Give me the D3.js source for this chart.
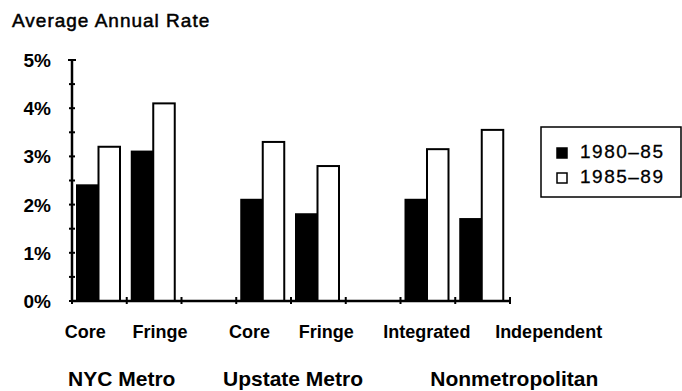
<!DOCTYPE html>
<html>
<head>
<meta charset="utf-8">
<script src="https://cdn.jsdelivr.net/npm/d3@7"></script>
<style>
body{margin:0;background:#fff}
svg{display:block;font-family:"Liberation Sans",Arial,sans-serif}
</style>
</head>
<body>
<svg id="chart" width="682" height="391"></svg>
<script>
// data
var categories=['Core','Fringe','Core','Fringe','Integrated','Independent']
var groupOf=[0,0,1,1,2,2]
var groups=['NYC Metro','Upstate Metro','Nonmetropolitan']
var series=['1980\u201385','1985\u201389']
var rate8085=[2.4,3.1,2.1,1.8,2.1,1.7]
var rate8589=[3.2,4.1,3.3,2.8,3.15,3.55]
var yTicks=[0,1,2,3,4,5]

// layout only
var labelDx=[-14,6,-14,8,-1,66]
var groupDx=[-5,2,59]

var svg=d3.select('#chart')
var x=d3.scaleBand().domain(d3.range(8)).range([72,510]).padding(0),
    inner=d3.scaleBand().domain(series).range([5,48]).padding(0),
    y=d3.scaleLinear().domain([0,5]).range([301,60])

function slot(i){ return groupOf[i]*3+(i%2) }

var rows=[]
for(let i=0;i<categories.length;i++)
{
    rows.push({i:i,s:series[0],v:rate8085[i]})
    rows.push({i:i,s:series[1],v:rate8589[i]})
}

// title
svg.append('text')
    .attr('x',12).attr('y',27)
    .attr('font-size',19)
    .attr('letter-spacing',1)
    .attr('stroke','#000').attr('stroke-width',0.5)
    .text('Average Annual Rate')

// bars
svg.append('g').attr('id','bars')
    .selectAll('rect')
    .data(rows)
    .join('rect')
    .attr('x',d=>x(slot(d.i))+inner(d.s))
    .attr('y',d=>y(d.v))
    .attr('width',inner.bandwidth())
    .attr('height',d=>y(0)-y(d.v))
    .attr('fill',d=>d.s==series[0]?'#000':'#fff')
    .attr('stroke','#000')
    .attr('stroke-width',2)

// y axis
var ya=svg.append('g').attr('id','y-axis')
ya.append('line')
    .attr('x1',72).attr('x2',72)
    .attr('y1',y(5)).attr('y2',y(0))
    .attr('stroke','#000').attr('stroke-width',2.5)
ya.selectAll('line.tk')
    .data(d3.range(0,5.01,0.5))
    .join('line').attr('class','tk')
    .attr('x1',d=>d==5?68:69).attr('x2',d=>d==5?76:75)
    .attr('y1',d=>y(d)).attr('y2',d=>y(d))
    .attr('stroke','#000').attr('stroke-width',2)
ya.selectAll('text')
    .data(yTicks)
    .join('text')
    .attr('x',51).attr('y',d=>y(d)+7)
    .attr('text-anchor','end')
    .attr('font-size',19).attr('font-weight','bold')
    .text(d=>d+'%')

// x axis
var xa=svg.append('g').attr('id','x-axis')
xa.append('line')
    .attr('x1',72).attr('x2',510)
    .attr('y1',y(0)).attr('y2',y(0))
    .attr('stroke','#000').attr('stroke-width',2.5)
xa.selectAll('line.tk')
    .data(d3.range(9))
    .join('line').attr('class','tk')
    .attr('x1',d=>d<8?x(d):510).attr('x2',d=>d<8?x(d):510)
    .attr('y1',y(0)-4).attr('y2',y(0)+3)
    .attr('stroke','#000').attr('stroke-width',2)

// category labels
xa.selectAll('text.cat')
    .data(categories)
    .join('text').attr('class','cat')
    .attr('x',(d,i)=>x(slot(i))+x.bandwidth()/2+labelDx[i])
    .attr('y',338)
    .attr('text-anchor','middle')
    .attr('font-size',18).attr('font-weight','bold')
    .text(d=>d)

// group labels
xa.selectAll('text.grp')
    .data(groups)
    .join('text').attr('class','grp')
    .attr('x',(d,i)=>x(i*3)+x.bandwidth()+groupDx[i])
    .attr('y',386)
    .attr('text-anchor','middle')
    .attr('font-size',21).attr('font-weight','bold')
    .text(d=>d)

// legend
var lg=svg.append('g').attr('id','legend')
lg.append('rect')
    .attr('x',541).attr('y',127)
    .attr('width',140).attr('height',70)
    .attr('fill','none').attr('stroke','#000').attr('stroke-width',1.5)
var li=lg.selectAll('g.item')
    .data(series)
    .join('g').attr('class','item')
    .attr('transform',(d,i)=>`translate(0,${i*25})`)
li.append('rect')
    .attr('x',557).attr('y',148)
    .attr('width',10).attr('height',10)
    .attr('fill',(d,i)=>i==0?'#000':'#fff')
    .attr('stroke','#000').attr('stroke-width',1.5)
li.append('text')
    .attr('x',580).attr('y',158)
    .attr('font-size',19)
    .attr('letter-spacing',1.5)
    .attr('stroke','#000').attr('stroke-width',0.3)
    .text(d=>d)
</script>
</body>
</html>
